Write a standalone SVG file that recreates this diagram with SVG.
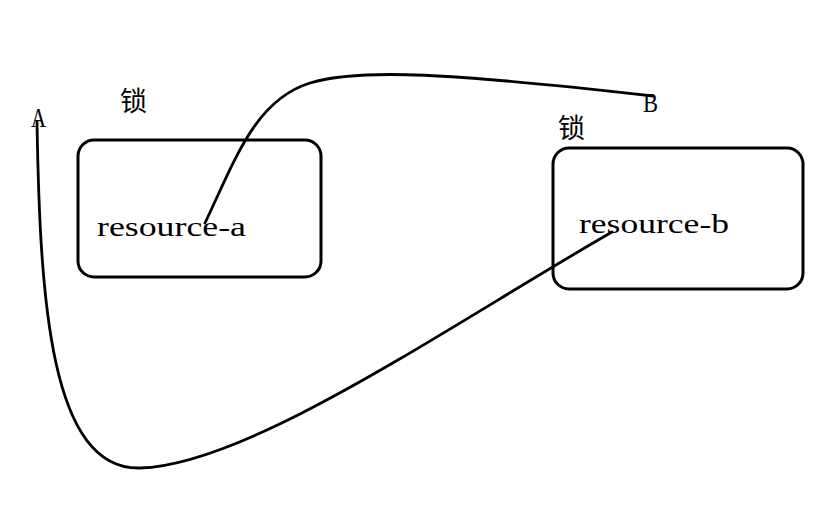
<svg xmlns="http://www.w3.org/2000/svg" width="833" height="512" viewBox="0 0 833 512">
<style>
.box{fill:none;stroke:#000;stroke-width:3}
.wire{fill:none;stroke:#000;stroke-width:2.8;stroke-linecap:round}
.lbl{font-family:"Liberation Serif","DejaVu Serif",serif;font-size:27px;fill:#000}
.cap{font-family:"Liberation Serif","DejaVu Serif",serif;font-size:28px;fill:#000}
.cjk{font-family:"Noto Sans CJK SC",sans-serif;font-size:27px;fill:#000}
</style>
<rect width="833" height="512" fill="#fff"/>
<g id="label-A"><text class="cap" x="31" y="127" textLength="15" lengthAdjust="spacingAndGlyphs">A</text></g>
<g id="label-B"><text class="cap" x="643" y="112" textLength="15" lengthAdjust="spacingAndGlyphs">B</text></g>
<g id="resource-a">
<rect class="box" x="78" y="140" width="243" height="137" rx="16"/>
<text class="lbl" x="97" y="236" textLength="149" lengthAdjust="spacingAndGlyphs">resource-a</text>
<text class="cjk" x="120" y="111">锁</text>
</g>
<g id="resource-b">
<rect class="box" x="553" y="148" width="250" height="141" rx="16"/>
<text class="lbl" x="579" y="233" textLength="150" lengthAdjust="spacingAndGlyphs">resource-b</text>
<text class="cjk" x="558" y="138">锁</text>
</g>
<g id="connectors">
<path class="wire" d="M205,223 C235,160 255,100 310,83 C360,68 450,73 653,96"/>
<path class="wire" d="M37,122 C40,300 50,470 140,468 C250,465 450,325 612,232"/>
</g>
</svg>
